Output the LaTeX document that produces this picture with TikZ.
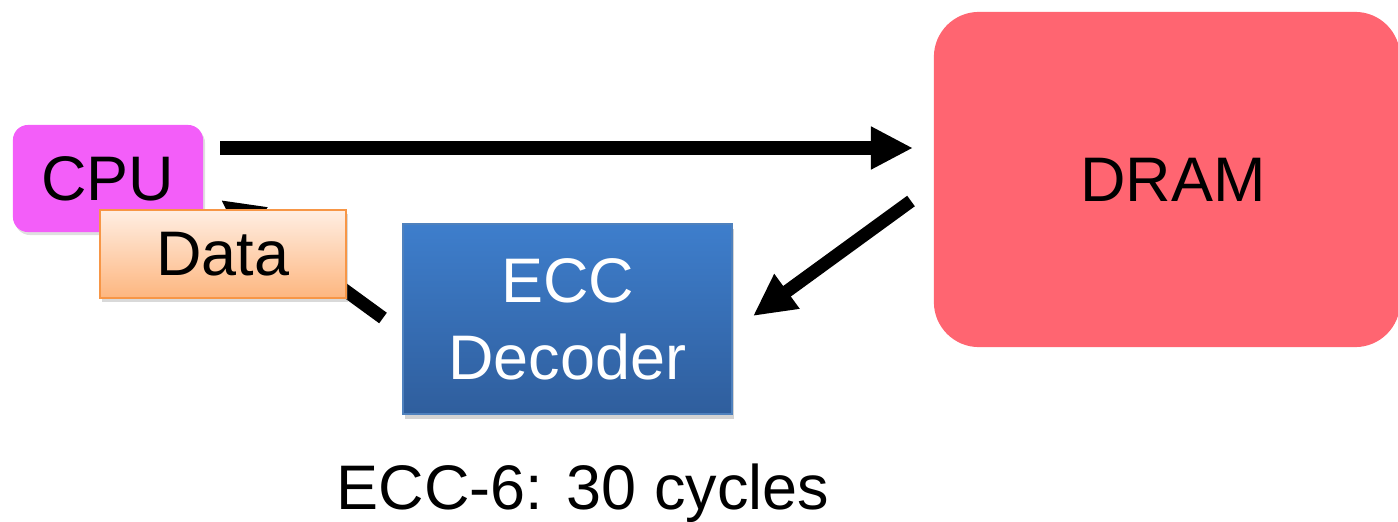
\documentclass[tikz,border=0pt]{standalone}
\usepackage{fontspec}
\setmainfont{Liberation Sans}
\usetikzlibrary{arrows.meta,shadows}
\definecolor{cpuc}{HTML}{F35EF9}
\definecolor{dramc}{HTML}{FF6571}
\definecolor{datatop}{HTML}{FFEEE3}
\definecolor{databot}{HTML}{FDB67F}
\definecolor{databord}{HTML}{F79646}
\definecolor{ecctop}{HTML}{3E7ECC}
\definecolor{eccbot}{HTML}{2F5E9D}
\definecolor{eccbord}{HTML}{4F81BD}
\begin{document}
\begin{tikzpicture}[x=0.01cm,y=-0.01cm,
  every node/.style={font=\fontsize{17.9}{21.8}\selectfont, inner sep=0pt},
  bigarrow/.style={line width=0.13cm, -{Triangle[length=0.42cm,width=0.40cm]}},
  cpubox/.style={fill=cpuc, rounded corners=0.15cm, minimum width=1.90cm, minimum height=1.07cm,
    drop shadow={opacity=0.25, shadow xshift=0.02cm, shadow yshift=-0.03cm}},
  databox/.style={top color=datatop, bottom color=databot, draw=databord, line width=0.6pt,
    minimum width=2.46cm, minimum height=0.88cm,
    drop shadow={opacity=0.3, shadow xshift=0.02cm, shadow yshift=-0.04cm}},
  eccbox/.style={top color=ecctop, bottom color=eccbot, draw=eccbord, line width=0.6pt,
    minimum width=3.29cm, minimum height=1.90cm, text=white, align=center,
    drop shadow={opacity=0.35, shadow xshift=0.02cm, shadow yshift=-0.05cm}},
  drambox/.style={fill=dramc, rounded corners=0.45cm, minimum width=4.66cm, minimum height=3.35cm},
]
\useasboundingbox (0,0) rectangle (1398,521);
% connector endpoints
\coordinate (a1s) at (220,148);
\coordinate (a1e) at (913,148);
\coordinate (a2s) at (911,201);
\coordinate (a2e) at (753,316);
\coordinate (a3s) at (383,318);
\coordinate (a3e) at (221,200);
% return arrow behind boxes
\draw[bigarrow] (a3s) -- (a3e);
\node[drambox] (dram) at (1167,179.5) {\hspace*{0.12cm}DRAM};
\node[cpubox] (cpu) at (108,178.5) {CPU};
\node[databox] (data) at (223,254) {\raisebox{-0.02cm}{Data}};
\node[eccbox] (ecc) at (567.5,319) {ECC\\Decoder};
\draw[bigarrow] (a1s) -- (a1e);
\draw[bigarrow] (a2s) -- (a2e);
\node[anchor=base] (lat) at (583,509) {ECC-6: 30 cycles};
\end{tikzpicture}
\end{document}
